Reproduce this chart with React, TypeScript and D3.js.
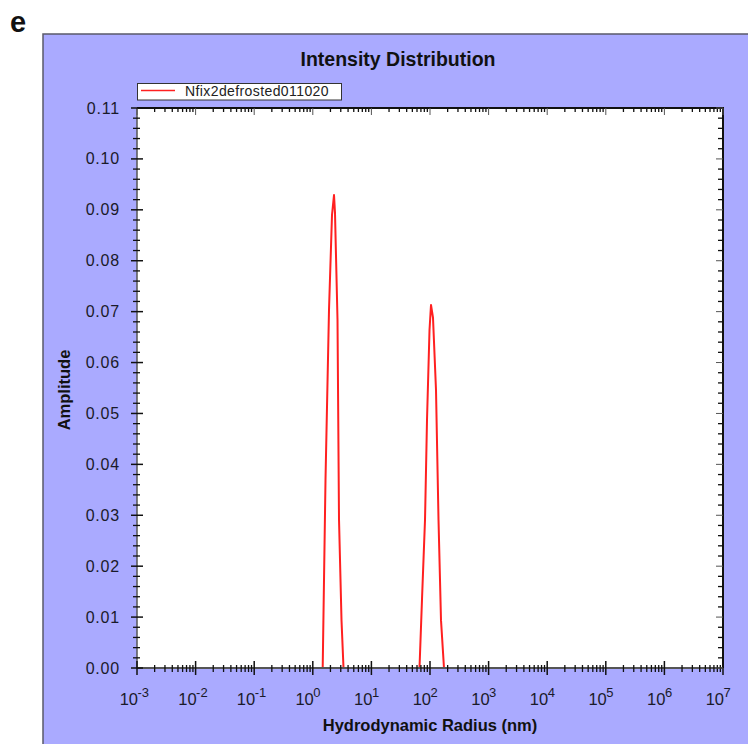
import React from "react";
import * as d3 from "d3";

// Data (hydrodynamic radius in nm, amplitude)
const radius = [1.475, 1.647, 1.89, 2.127, 2.301, 2.392, 2.64, 2.801, 3.089, 3.342,
  66.2, 73.0, 82.2, 88.9, 98.1, 104.0, 112.5, 126.6, 139.7, 154.1, 173.3];
const amplitude = [0, 0.0369, 0.0703, 0.089, 0.0929, 0.0894, 0.0684, 0.0291, 0.0094, 0,
  0, 0.0134, 0.0291, 0.0487, 0.0664, 0.0713, 0.0688, 0.0546, 0.0291, 0.0094, 0];
const xExponents = [-3, -2, -1, 0, 1, 2, 3, 4, 5, 6, 7];
const yTicks = [0, 0.01, 0.02, 0.03, 0.04, 0.05, 0.06, 0.07, 0.08, 0.09, 0.1, 0.11];
const seriesName = "Nfix2defrosted011020";
const title = "Intensity Distribution";
const xTitle = "Hydrodynamic Radius (nm)";
const yTitle = "Amplitude";

const W = 748, H = 744;
const L = 137, R = 723, T = 108, B = 668;
const FONT = "'Liberation Sans', Arial, sans-serif";

export default function App() {
  const x = d3.scaleLog().domain([1e-3, 1e7]).range([L, R]);
  const y = d3.scaleLinear().domain([0, 0.11]).range([B, T]);
  const pts = radius.map((r, i) => [r, amplitude[i]] as [number, number]);
  const line = d3.line<[number, number]>().x(d => x(d[0])).y(d => y(d[1]));

  const majorX = xExponents.map(e => Math.pow(10, e));
  const minorX: number[] = [];
  xExponents.slice(0, -1).forEach(e => {
    for (let k = 2; k <= 9; k++) minorX.push(k * Math.pow(10, e));
  });
  const minorY: number[] = [];
  for (let i = 0; i <= 55; i++) if (i % 5 !== 0) minorY.push(i * 0.002);

  return (
    <svg width={W} height={H} style={{ position: "absolute", left: 0, top: 0 }} fontFamily={FONT}>
      <rect x={0} y={0} width={W} height={H} fill="#ffffff" />
      <text x={10} y={32} fontSize={29} fontWeight="bold" fill="#111">e</text>
      <rect x={43} y={34} width={W} height={H} fill="#AAAAFF" stroke="#5a5a6a" strokeWidth={1.5} />
      <text x={398} y={66} textAnchor="middle" fontSize={19.5} fontWeight="bold" fill="#111">{title}</text>
      {/* legend */}
      <rect x={137.5} y={83.5} width={204} height={16.5} fill="#fff" stroke="#333" strokeWidth={1} />
      <line x1={141} x2={175} y1={90.5} y2={90.5} stroke="#ff2020" strokeWidth={1.6} />
      <text x={185} y={96} fontSize={14} letterSpacing={0.4} fill="#222">{seriesName}</text>
      {/* plot area */}
      <rect x={L} y={T} width={R - L} height={B - T} fill="#fff" />
      <path d={line(pts) || ""} fill="none" stroke="#ff2020" strokeWidth={2} strokeLinejoin="round" />
      {/* frame top/right */}
      <line x1={L} x2={R + 1} y1={T} y2={T} stroke="#111" strokeWidth={2} />
      <line x1={R} x2={R} y1={T} y2={B} stroke="#111" strokeWidth={2} />
      {/* axes */}
      <line x1={L} x2={R} y1={B} y2={B} stroke="#555" strokeWidth={2} />
      <line x1={L} x2={L} y1={T} y2={B} stroke="#555" strokeWidth={1.5} />
      {/* x ticks */}
      {majorX.map((v, i) => (
        <g key={"mx" + i}>
          <line x1={x(v)} x2={x(v)} y1={661} y2={675} stroke="#111" strokeWidth={1.5} />
          <line x1={x(v)} x2={x(v)} y1={T} y2={T + 7} stroke="#555" strokeWidth={1} />
        </g>
      ))}
      {minorX.map((v, i) => (
        <g key={"nx" + i}>
          <line x1={x(v)} x2={x(v)} y1={665} y2={672} stroke="#111" strokeWidth={1.3} />
          <line x1={x(v)} x2={x(v)} y1={T} y2={T + 4} stroke="#111" strokeWidth={1.3} />
        </g>
      ))}
      {xExponents.map((e, i) => (
        <text key={"xl" + i} x={x(Math.pow(10, e)) + 1} y={705} fontSize={16.5} fill="#1a1a2a">
          <tspan textAnchor="end">10</tspan>
        </text>
      ))}
      {xExponents.map((e, i) => (
        <text key={"xe" + i} x={x(Math.pow(10, e)) + 0.5} y={697} fontSize={13} fill="#1a1a2a">{String(e)}</text>
      ))}
      {/* y ticks */}
      {yTicks.map((v, i) => (
        <g key={"my" + i}>
          <line x1={131} x2={143} y1={y(v)} y2={y(v)} stroke="#111" strokeWidth={1.5} />
          <line x1={R - 7} x2={R} y1={y(v)} y2={y(v)} stroke="#555" strokeWidth={1} />
          <text x={120} y={y(v) + 5.5} textAnchor="end" fontSize={16} letterSpacing={0.8} fill="#1a1a2a">{v.toFixed(2)}</text>
        </g>
      ))}
      {minorY.map((v, i) => (
        <g key={"ny" + i}>
          <line x1={133} x2={140} y1={y(v)} y2={y(v)} stroke="#111" strokeWidth={1.3} />
          <line x1={R - 5} x2={R} y1={y(v)} y2={y(v)} stroke="#111" strokeWidth={1.3} />
        </g>
      ))}
      <text x={430} y={731} textAnchor="middle" fontSize={16.5} fontWeight="bold" fill="#111">{xTitle}</text>
      <text transform="translate(70,390) rotate(-90)" textAnchor="middle" fontSize={16.5} fontWeight="bold" fill="#111">{yTitle}</text>
    </svg>
  );
}
